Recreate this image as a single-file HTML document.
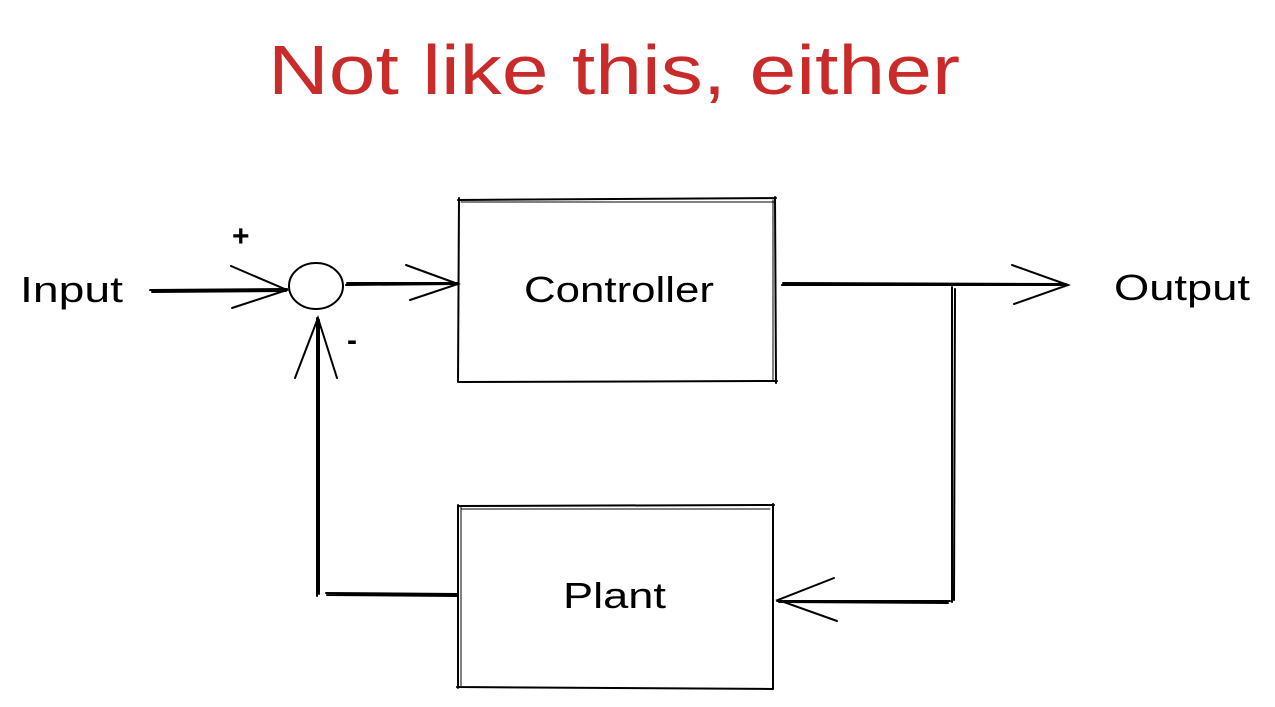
<!DOCTYPE html>
<html><head><style>
html,body{margin:0;padding:0;background:#fff;width:1275px;height:707px;overflow:hidden}
</style></head><body>
<svg width="1275" height="707" viewBox="0 0 1275 707" xmlns="http://www.w3.org/2000/svg">
<g font-family="Liberation Sans, sans-serif">
<text x="268" y="94" font-size="70" fill="#c92a2a" textLength="692" lengthAdjust="spacingAndGlyphs">Not like this, either</text>
<g font-size="36" fill="#000">
<text x="20" y="302" textLength="103" lengthAdjust="spacingAndGlyphs">Input</text>
<text x="524" y="302" textLength="190" lengthAdjust="spacingAndGlyphs">Controller</text>
<text x="1114" y="300" textLength="136" lengthAdjust="spacingAndGlyphs">Output</text>
<text x="563" y="608" textLength="103" lengthAdjust="spacingAndGlyphs">Plant</text>
<text x="232" y="246" font-size="30" font-weight="bold">+</text>
<text x="347" y="350" font-size="30" font-weight="bold">-</text>
</g>
</g>
<g fill="none" stroke="#000" stroke-width="2" stroke-linecap="round">
<path d="M458 200 L776 198 M459 382 L777 381 M459 198 L458 382 M775 197 L776 383"/>
<path d="M461 202 L774 202 M773 200 L773 381" stroke-width="1"/>
<path d="M458 506 L774 505 M457 687 L773 689 M458 505 L458 688 M773 504 L773 689"/>
<path d="M461 509 L770 509 M461 507 L461 686" stroke-width="1"/>
<ellipse cx="316" cy="286" rx="27" ry="23"/>
<path d="M150 290 L287 289 M152 292 L286 291" />
<path d="M231 266 L287 290 L232 308"/>
<path d="M346 285 L458 284 M347 283 L457 283"/>
<path d="M406 265 L458 284 L410 300"/>
<path d="M782 285 L1068 285 M783 283 L1066 284"/>
<path d="M1012 265 L1068 285 L1014 304"/>
<path d="M952 287 L952 602 M955 289 L954 600"/>
<path d="M950 601 L777 601 M948 603 L779 602"/>
<path d="M834 578 L778 600 L837 621"/>
<path d="M458 594 L326 593 M457 596 L327 595"/>
<path d="M317 318 L317 596 M319 320 L319 594"/>
<path d="M295 378 L318 318 L337 378"/>
</g>
</svg>
</body></html>
